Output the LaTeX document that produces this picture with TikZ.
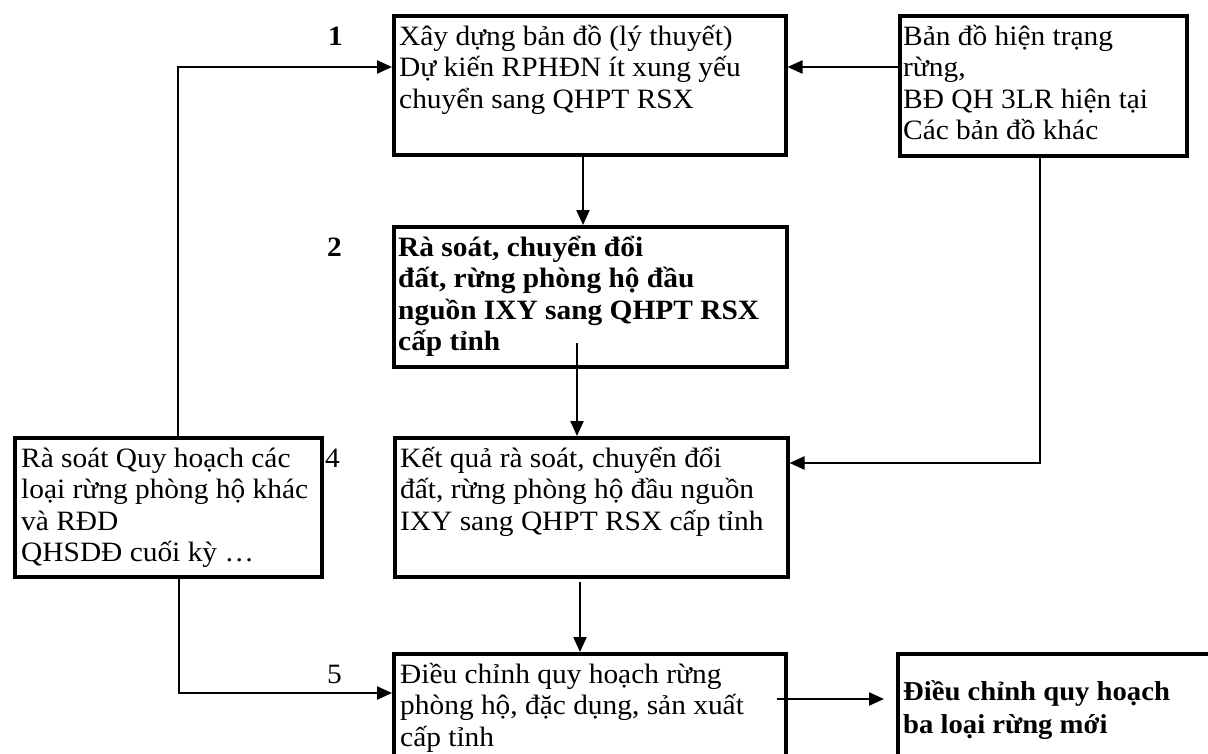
\documentclass[tikz,border=0pt]{standalone}
\usepackage{fontspec}
\setmainfont{Liberation Serif}[FakeStretch=1.05]
\usetikzlibrary{arrows.meta}
\tikzset{
  box/.style={draw, line width=3.5pt, anchor=north west, inner sep=0pt},
  txt/.style={anchor=base west, inner sep=0pt, font=\fontsize{28}{31.5}\selectfont},
  btxt/.style={txt, font=\fontsize{28}{31.5}\selectfont\bfseries},
  conn/.style={line width=2.2pt, -{Triangle[length=15pt,width=13pt]}},
}
\newcommand{\lines}[1]{\parbox[t]{420pt}{#1}}
\begin{document}
\begin{tikzpicture}[x=1pt,y=-1pt]
\useasboundingbox (0,0) rectangle (1208,753);
\clip (0,0) rectangle (1208,753);
% boxes
\node[box, minimum width=392pt, minimum height=139pt] (b1) at (392,14) {};
\node[box, minimum width=287pt, minimum height=140pt] (bd) at (898,14) {};
\node[box, minimum width=393pt, minimum height=140pt] (b2) at (392,225) {};
\node[box, minimum width=393pt, minimum height=139pt] (b4) at (393,436) {};
\node[box, minimum width=307pt, minimum height=139pt] (lb) at (13,436) {};
\node[box, minimum width=392pt, minimum height=140pt] (b5) at (392,652) {};
\node[box, minimum width=400pt, minimum height=150pt] (b6) at (896,652) {};
% texts
\node[txt] (t1) at (399,45) {\lines{Xây dựng bản đồ (lý thuyết)\\Dự kiến RPHĐN ít xung yếu\\chuyển sang QHPT RSX}};
\node[txt] (tbd) at (903,45) {\lines{Bản đồ hiện trạng\\rừng,\\BĐ QH 3LR hiện tại\\Các bản đồ khác}};
\node[btxt] (t2) at (398,256) {\lines{Rà soát, chuyển đổi\\đất, rừng phòng hộ đầu\\nguồn IXY sang QHPT RSX\\cấp tỉnh}};
\node[txt] (t4) at (400,467) {\lines{Kết quả rà soát, chuyển đổi\\đất, rừng phòng hộ đầu nguồn\\IXY sang QHPT RSX cấp tỉnh}};
\node[txt] (tlb) at (21,467) {\lines{Rà soát Quy hoạch các\\loại rừng phòng hộ khác\\và RĐD\\QHSDĐ cuối kỳ …}};
\node[txt] (t5) at (400,683) {\lines{Điều chỉnh quy hoạch rừng\\phòng hộ, đặc dụng, sản xuất\\cấp tỉnh}};
\node[btxt, font=\fontsize{27.3}{33}\selectfont\bfseries] (t6) at (903,700) {\lines{Điều chỉnh quy hoạch\\ba loại rừng mới}};
% step numbers
\node[btxt] (n1) at (328,45) {1};
\node[btxt] (n2) at (327,256) {2};
\node[txt] (n4) at (325,467) {4};
\node[txt] (n5) at (327,683) {5};
% connector helper coordinates
\coordinate (l1) at (178,67);
\coordinate (l2) at (179,693);
\coordinate (r1) at (840,67);
\coordinate (r2) at (1040,463);
\coordinate (a1) at (583,100);
\coordinate (c2s) at (577,343);
\coordinate (c4s) at (580,582);
\coordinate (c5) at (777,699);
% connectors
\draw[conn] (lb.north -| l1) -- (l1) -- (l1 -| b1.west);
\draw[conn] (lb.south -| l2) -- (l2) -- (l2 -| b5.west);
\draw[conn] (r1 -| bd.west) -- (r1 -| b1.east);
\draw[conn] (bd.south -| r2) -- (r2) -- (r2 -| b4.east);
\draw[conn] (b1.south -| a1) -- (b2.north -| a1);
\draw[conn] (c2s) -- (c2s |- b4.north);
\draw[conn] (c4s) -- (c4s |- b5.north);
\draw[conn, shorten >=12pt] (c5) -- (c5 -| b6.west);
\end{tikzpicture}
\end{document}
